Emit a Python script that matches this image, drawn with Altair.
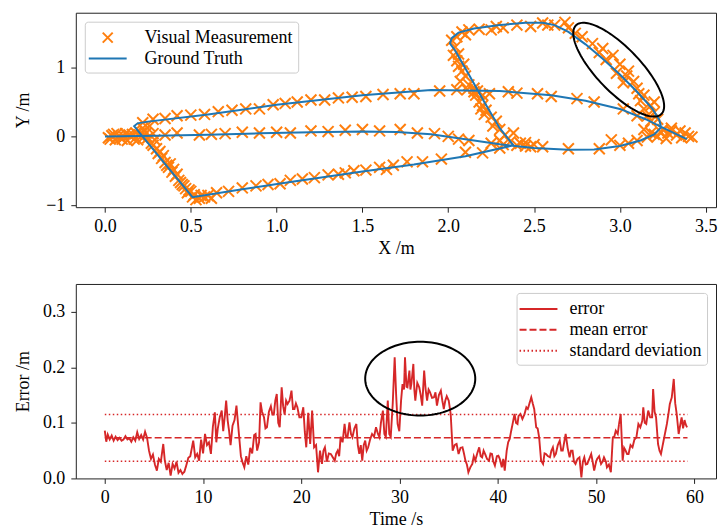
import altair as alt
import numpy as np
import pandas as pd

FONT = "Liberation Serif"
FS = 18
ORANGE = "#ff7f0e"
BLUE = "#1f77b4"
RED = "#d62728"
CROSS = "M-0.5,-0.5L0.5,0.5M-0.5,0.5L0.5,-0.5"
DASH = "M-1.9,0L1.9,0"

# ---------------- ground truth trajectory (in travel order) ----------------
gt_x = [0.00, 0.30, 0.60, 0.90, 1.20, 1.50, 1.70, 1.90, 2.10, 2.30,
        2.50, 2.70, 2.85, 3.00, 3.12, 3.20, 3.24, 3.23, 3.19, 3.10,
        3.00, 2.90, 2.80, 2.70, 2.62, 2.55, 2.45, 2.30, 2.15, 2.06,
        2.02, 2.01, 2.04, 2.12, 2.21, 2.30, 2.38, 2.10, 1.80, 1.50,
        1.10, 0.80, 0.51, 0.34, 0.17, 0.19, 0.25, 0.60, 1.00, 1.50,
        1.90, 2.30, 2.60, 2.80, 3.00, 3.15, 3.24, 3.39]
gt_y = [0.00, 0.01, 0.025, 0.045, 0.06, 0.07, 0.065, 0.03, -0.04, -0.115,
        -0.17, -0.195, -0.19, -0.14, -0.06, 0.03, 0.13, 0.24, 0.40, 0.65,
        0.90, 1.13, 1.34, 1.52, 1.62, 1.655, 1.655, 1.62, 1.57, 1.51,
        1.43, 1.35, 1.25, 0.90, 0.50, 0.12, -0.13, -0.29, -0.41, -0.51,
        -0.655, -0.77, -0.885, -0.37, 0.15, 0.19, 0.215, 0.32, 0.46, 0.60,
        0.675, 0.66, 0.60, 0.52, 0.40, 0.25, 0.14, -0.04]

# ---------------- visual measurements (x, y) by stretch of the path ----------------
meas_start = [(0.02, -0.02), (0.04, 0.01), (0.05, 0.03), (0.06, -0.05), (0.08, 0.01),
              (0.09, -0.02), (0.10, -0.04), (0.12, 0.04), (0.13, -0.06), (0.14, 0.02),
              (0.15, 0.00), (0.17, -0.04), (0.18, 0.05), (0.20, 0.02), (0.22, -0.02),
              (0.11, 0.00), (0.03, -0.04), (0.07, 0.04), (0.16, 0.03), (0.19, -0.05),
              (0.21, 0.05)]
meas_diag_left = [(0.22, 0.12), (0.26, 0.15), (0.24, 0.05), (0.25, -0.02), (0.27, -0.10),
                  (0.29, -0.05), (0.30, -0.18), (0.31, -0.25), (0.33, -0.32), (0.34, -0.28),
                  (0.35, -0.38), (0.37, -0.45), (0.39, -0.52), (0.40, -0.48), (0.41, -0.58),
                  (0.43, -0.64), (0.45, -0.70), (0.46, -0.72), (0.47, -0.76), (0.50, -0.80),
                  (0.52, -0.85), (0.55, -0.90), (0.58, -0.88), (0.53, -0.92), (0.60, -0.86),
                  (0.23, 0.08), (0.28, -0.13), (0.32, -0.22), (0.36, -0.42), (0.38, -0.40),
                  (0.42, -0.55), (0.44, -0.67), (0.48, -0.82), (0.51, -0.88), (0.56, -0.86),
                  (0.62, -0.90), (0.49, -0.78)]
meas_lower = [(0.65, -0.82), (0.72, -0.80), (0.80, -0.75), (0.88, -0.72), (0.95, -0.70),
              (1.02, -0.69), (1.08, -0.64), (1.15, -0.62), (1.22, -0.60), (1.30, -0.56),
              (1.36, -0.55), (1.40, -0.53), (1.45, -0.50), (1.52, -0.49), (1.60, -0.45),
              (1.64, -0.48), (1.68, -0.42), (1.76, -0.37), (1.85, -0.37), (1.96, -0.33),
              (2.10, -0.23), (2.20, -0.24), (2.30, -0.17)]
meas_upper = [(0.22, 0.20), (0.28, 0.25), (0.35, 0.26), (0.42, 0.30), (0.50, 0.31),
              (0.58, 0.32), (0.66, 0.36), (0.74, 0.38), (0.82, 0.40), (0.90, 0.40),
              (0.98, 0.46), (1.05, 0.48), (1.12, 0.50), (1.20, 0.53), (1.28, 0.53),
              (1.36, 0.56), (1.44, 0.57), (1.52, 0.58), (1.62, 0.61), (1.72, 0.62),
              (1.80, 0.62), (1.95, 0.66), (2.05, 0.68), (2.15, 0.65), (2.20, 0.60),
              (2.35, 0.65), (2.40, 0.63), (2.52, 0.62), (2.60, 0.58), (2.75, 0.55),
              (2.85, 0.50), (3.02, 0.40), (3.10, 0.30), (3.18, 0.22)]
meas_middle = [(0.28, 0.04), (0.35, 0.02), (0.42, 0.05), (0.55, 0.02), (0.62, 0.03),
               (0.70, 0.04), (0.80, 0.06), (0.90, 0.05), (1.00, 0.06), (1.08, 0.05),
               (1.20, 0.08), (1.30, 0.07), (1.40, 0.09), (1.50, 0.10), (1.60, 0.08),
               (1.72, 0.10), (1.82, 0.05), (1.92, 0.04), (2.00, 0.00), (2.06, -0.04),
               (2.12, -0.06), (2.25, -0.10)]
meas_curve = [(2.40, -0.13), (2.45, -0.14), (2.50, -0.12), (2.55, -0.15), (2.70, -0.18),
              (2.88, -0.18), (2.95, -0.05), (3.00, -0.13), (3.05, -0.10), (3.10, -0.06),
              (3.16, -0.01), (3.20, 0.03), (3.28, 0.05)]
meas_diag_right = [(2.02, 1.40), (2.04, 1.30), (2.03, 1.18), (2.05, 1.10), (2.06, 1.02),
                   (2.08, 0.95), (2.10, 0.88), (2.07, 0.80), (2.12, 0.75), (2.15, 0.70),
                   (2.16, 0.60), (2.18, 0.50), (2.20, 0.45), (2.22, 0.38), (2.25, 0.28),
                   (2.28, 0.22), (2.21, 0.32), (2.30, 0.10), (2.33, 0.02), (2.30, -0.06),
                   (2.36, -0.08), (2.42, -0.10), (2.06, 1.20), (2.09, 1.05), (2.11, 0.68),
                   (2.17, 0.66), (2.24, 0.62), (2.19, 0.40), (2.26, 0.15), (2.32, -0.12),
                   (2.45, -0.09), (2.48, -0.15), (2.38, 0.05)]
meas_top = [(2.05, 1.45), (2.08, 1.52), (2.12, 1.55), (2.18, 1.56), (2.25, 1.55),
            (2.32, 1.58), (2.40, 1.62), (2.48, 1.60), (2.55, 1.65), (2.62, 1.62),
            (2.68, 1.66), (2.70, 1.58), (2.10, 1.48), (2.28, 1.60), (2.58, 1.62)]
meas_return = [(2.78, 1.45), (2.84, 1.35), (2.90, 1.28), (2.92, 1.12), (2.96, 1.18),
               (3.00, 1.05), (2.98, 0.92), (3.05, 0.95), (3.08, 0.80), (3.02, 0.78),
               (3.10, 0.70), (3.14, 0.60), (3.12, 0.52), (3.18, 0.45), (3.20, 0.35),
               (3.16, 0.30), (3.22, 0.25), (2.74, 1.50), (2.88, 1.22), (3.04, 0.88),
               (3.11, 0.62), (3.20, 0.50), (3.14, 0.40)]
meas_end = [(3.25, 0.10), (3.30, 0.08), (3.33, 0.02), (3.36, -0.02), (3.40, 0.00),
            (3.38, 0.05), (3.27, -0.03), (3.22, 0.00), (3.14, 0.10), (3.30, 0.12),
            (3.35, 0.08), (3.24, 0.06), (3.42, -0.01), (3.18, 0.05)]

# ---------------- error over time ----------------
time_s = [
    0.0, 0.15, 0.3, 0.5, 0.7, 0.9, 1.1, 1.3, 1.5, 1.7,
    1.9, 2.1, 2.3, 2.5, 2.7, 2.9, 3.1, 3.3, 3.5, 3.7,
    3.9, 4.1, 4.3, 4.5, 4.7, 4.9, 5.1, 5.3, 5.5, 5.7,
    5.95, 6.1, 6.3, 6.5, 6.7, 6.9, 7.1, 7.3, 7.5, 7.7,
    7.9, 8.1, 8.3, 8.5, 8.7, 9.0, 9.2, 9.4, 9.6, 9.8,
    10.0, 10.2, 10.4, 10.6, 10.8, 11.0, 11.2, 11.35, 11.5, 11.7,
    11.9, 12.05, 12.2, 12.35, 12.5, 12.65, 12.8, 13.0, 13.2, 13.4,
    13.55, 13.7, 13.85, 14.0, 14.2, 14.4, 14.6, 14.8, 15.0, 15.2,
    15.35, 15.5, 15.7, 15.85, 16.0, 16.2, 16.35, 16.5, 16.7, 16.9,
    17.05, 17.2, 17.35, 17.5, 17.65, 17.8, 18.0, 18.15, 18.3, 18.45,
    18.6, 18.8, 19.0, 19.15, 19.3, 19.45, 19.6, 19.8, 20.0, 20.2,
    20.35, 20.5, 20.7, 20.9, 21.1, 21.3, 21.5, 21.7, 21.9, 22.1,
    22.25, 22.4, 22.6, 22.8, 23.0, 23.2, 23.4, 23.55, 23.7, 23.85,
    24.0, 24.2, 24.4, 24.55, 24.7, 24.9, 25.05, 25.2, 25.4, 25.6,
    25.75, 25.9, 26.05, 26.2, 26.35, 26.5, 26.65, 26.8, 27.0, 27.2,
    27.4, 27.6, 27.8, 27.95, 28.1, 28.3, 28.45, 28.6, 28.8, 28.95,
    29.1, 29.3, 29.5, 29.65, 29.8, 29.97, 30.15, 30.3, 30.45, 30.55,
    30.7, 30.8, 31.0, 31.1, 31.2, 31.4, 31.5, 31.6, 31.8, 32.0,
    32.15, 32.3, 32.5, 32.65, 32.8, 32.95, 33.1, 33.3, 33.5, 33.65,
    33.8, 34.0, 34.2, 34.35, 34.5, 34.65, 34.8, 35.0, 35.2, 35.4,
    35.6, 35.8, 36.0, 36.2, 36.4, 36.55, 36.7, 36.85, 37.0, 37.2,
    37.4, 37.55, 37.7, 37.9, 38.1, 38.25, 38.4, 38.55, 38.7, 38.9,
    39.1, 39.25, 39.4, 39.55, 39.7, 39.9, 40.05, 40.2, 40.4, 40.55,
    40.7, 40.9, 41.05, 41.2, 41.35, 41.5, 41.7, 41.85, 42.0, 42.1,
    42.3, 42.5, 42.7, 42.9, 43.05, 43.2, 43.4, 43.55, 43.7, 43.9,
    44.05, 44.2, 44.4, 44.6, 44.75, 44.9, 45.1, 45.3, 45.45, 45.6,
    45.75, 45.9, 46.1, 46.3, 46.45, 46.6, 46.75, 46.9, 47.1, 47.3,
    47.45, 47.6, 47.75, 47.9, 48.1, 48.3, 48.5, 48.65, 48.8, 48.95,
    49.1, 49.3, 49.5, 49.65, 49.8, 50.0, 50.1, 50.3, 50.5, 50.65,
    50.8, 51.0, 51.1, 51.3, 51.5, 51.7, 51.85, 52.0, 52.2, 52.35,
    52.5, 52.7, 52.85, 53.0, 53.15, 53.3, 53.5, 53.7, 53.9, 54.1,
    54.3, 54.5, 54.7, 54.8, 54.95, 55.1, 55.3, 55.5, 55.7, 55.8,
    55.95, 56.1, 56.3, 56.45, 56.6, 56.8, 57.0, 57.2, 57.35, 57.5,
    57.7, 57.9, 58.05, 58.2, 58.4, 58.55, 58.7, 58.85, 59.0, 59.1,
    59.25]
error_m = [
    .086, .066, .079, .070, .077, .068, .075, .069, .073, .068,
    .070, .076, .070, .072, .066, .074, .068, .083, .071, .078,
    .070, .084, .073, .050, .035, .043, .025, .014, .035, .030,
    .062, .033, .015, .028, .005, .026, .018, .030, .010, .015,
    .008, .012, .024, .037, .040, .068, .038, .044, .032, .070,
    .045, .080, .060, .065, .044, .093, .119, .065, .090, .110,
    .122, .085, .110, .140, .105, .085, .060, .095, .105, .131,
    .100, .070, .040, .030, .020, .040, .025, .055, .045, .078,
    .080, .050, .065, .137, .120, .110, .090, .092, .120, .130,
    .115, .115, .140, .152, .100, .092, .164, .130, .115, .140,
    .134, .140, .158, .125, .125, .135, .128, .110, .110, .128,
    .085, .056, .118, .062, .122, .056, .060, .011, .050, .026,
    .050, .056, .030, .045, .044, .038, .032, .045, .050, .040,
    .075, .065, .098, .075, .074, .101, .080, .074, .090, .098,
    .060, .044, .060, .032, .060, .068, .050, .056, .070, .080,
    .075, .092, .080, .074, .100, .122, .080, .075, .140, .080,
    .075, .134, .218, .150, .098, .085, .140, .170, .160, .218,
    .165, .164, .194, .160, .170, .206, .160, .140, .172, .164,
    .150, .131, .194, .160, .140, .160, .155, .145, .146, .155,
    .131, .150, .158, .140, .125, .140, .148, .140, .116, .050,
    .060, .062, .044, .055, .056, .045, .032, .025, .011, .020,
    .026, .040, .032, .045, .056, .040, .038, .050, .044, .035,
    .032, .045, .044, .030, .023, .040, .041, .035, .020, .035,
    .014, .050, .065, .071, .085, .098, .116, .100, .098, .112,
    .116, .107, .115, .128, .125, .134, .146, .135, .125, .092,
    .090, .074, .032, .026, .045, .044, .040, .038, .050, .056,
    .040, .044, .060, .068, .050, .050, .065, .080, .055, .038,
    .050, .050, .030, .026, .035, .038, .002, .030, .038, .025,
    .026, .035, .044, .030, .014, .030, .035, .040, .026, .030,
    .038, .030, .020, .025, .011, .074, .075, .086, .080, .100,
    .116, .032, .055, .050, .044, .044, .060, .056, .070, .074,
    .098, .092, .104, .128, .100, .098, .122, .110, .110, .161,
    .120, .110, .062, .050, .044, .062, .080, .098, .115, .134,
    .146, .179, .135, .116, .080, .095, .110, .090, .105, .098,
    .092]
mean_error = 0.073
std_error = 0.042
t_start, t_end = 0.0, 59.3

# annotation ellipses: centre, semi-axis vector u, semi-axis vector v
ell_top = (2.993, 0.971, 0.2485, -0.646, 0.0913, 0.2215)
ell_bot = (32.1, 0.1795, 5.6, 0.0, 0.0, 0.0664)

# ---------------- tables ----------------
gt_df = pd.DataFrame({"x": gt_x, "y": gt_y, "i": range(len(gt_x)), "series": "Ground Truth"})
pts = (meas_start + meas_diag_left + meas_lower + meas_upper + meas_middle + meas_curve
       + meas_diag_right + meas_top + meas_return + meas_end)
vm_df = pd.DataFrame({"x": [p[0] for p in pts], "y": [p[1] for p in pts], "series": "Visual Measurement"})


def ellipse_df(p, n=121):
    a = np.linspace(0, 2 * np.pi, n)
    cx, cy, ux, uy, vx, vy = p
    return pd.DataFrame({"x": cx + ux * np.cos(a) + vx * np.sin(a),
                         "y": cy + uy * np.cos(a) + vy * np.sin(a), "i": np.arange(n)})


err_df = pd.DataFrame({"t": time_s, "e": error_m, "kind": "error"})
ref_df = pd.DataFrame({
    "t0": [t_start] * 3, "t1": [t_end] * 3,
    "e": [mean_error, mean_error + std_error, mean_error - std_error],
    "kind": ["mean error", "standard deviation", "standard deviation"],
})

W, H = 642, 195
TX = -52


def x_axis(title, values, fmt):
    return alt.Axis(title=title, values=values, format=fmt, labelFont=FONT, titleFont=FONT,
                    labelFontSize=FS, titleFontSize=FS, labelPadding=5, titlePadding=4)


def y_axis(title, values, fmt):
    return alt.Axis(title=title, values=values, format=fmt, labelFont=FONT, titleFont=FONT,
                    labelFontSize=FS, titleFontSize=FS, labelPadding=6,
                    titleX=TX, titleY=H / 2, titleAngle=270, titleAlign="center",
                    titleBaseline="middle")


# ---------------- top panel ----------------
xs = alt.Scale(domain=[-0.17, 3.56], nice=False, zero=False)
ys = alt.Scale(domain=[-1.03, 1.80], nice=False, zero=False)
series_dom = ["Visual Measurement", "Ground Truth"]
leg_top = alt.Legend(title=None, orient="top-left", offset=9, symbolSize=400,
                     symbolStrokeWidth=2, symbolOffset=7, labelOffset=26)

pts_layer = alt.Chart(vm_df).mark_point(filled=False, strokeWidth=2, size=484, opacity=1,
                                        clip=True).encode(
    x=alt.X("x:Q", scale=xs, axis=x_axis("X /m", [0, 0.5, 1, 1.5, 2, 2.5, 3, 3.5], ".1f")),
    y=alt.Y("y:Q", scale=ys, axis=y_axis("Y /m", [-1, 0, 1], "d")),
    color=alt.Color("series:N", scale=alt.Scale(domain=series_dom, range=[ORANGE, BLUE]), legend=leg_top),
    shape=alt.Shape("series:N", scale=alt.Scale(domain=series_dom, range=[CROSS, DASH]), legend=leg_top),
)
gt_layer = alt.Chart(gt_df).mark_line(strokeWidth=2, clip=True).encode(
    x="x:Q", y="y:Q", order="i:Q",
    color=alt.Color("series:N", scale=alt.Scale(domain=series_dom, range=[ORANGE, BLUE]), legend=leg_top),
)
ell1 = alt.Chart(ellipse_df(ell_top)).mark_line(color="black", strokeWidth=2, clip=True).encode(
    x="x:Q", y="y:Q", order="i:Q")
top = alt.layer(pts_layer, gt_layer, ell1).properties(width=W, height=H)

# ---------------- bottom panel ----------------
ts = alt.Scale(domain=[-2.95, 62.2], nice=False, zero=False)
es = alt.Scale(domain=[0, 0.35], nice=False, zero=False)
kind_dom = ["error", "mean error", "standard deviation"]
dash_scale = alt.Scale(domain=kind_dom, range=[[1, 0], [7, 3], [1.5, 2.5]])
leg_bot = alt.Legend(title=None, orient="top-right", offset=9, symbolType=DASH, symbolSize=400,
                     symbolStrokeWidth=2, symbolStrokeColor=RED, symbolOffset=6, labelOffset=20)

err_layer = alt.Chart(err_df).mark_line(color=RED, strokeWidth=1.9).encode(
    x=alt.X("t:Q", scale=ts, axis=x_axis("Time /s", [0, 10, 20, 30, 40, 50, 60], "d")),
    y=alt.Y("e:Q", scale=es, axis=y_axis("Error /m", [0, 0.1, 0.2, 0.3], ".1f")),
    strokeDash=alt.StrokeDash("kind:N", scale=dash_scale, legend=leg_bot),
)
ref_layer = alt.Chart(ref_df).mark_rule(color=RED, strokeWidth=1.5).encode(
    x="t0:Q", x2="t1:Q", y="e:Q",
    strokeDash=alt.StrokeDash("kind:N", scale=dash_scale, legend=leg_bot),
)
ell2 = alt.Chart(ellipse_df(ell_bot)).mark_line(color="black", strokeWidth=2).encode(
    x="x:Q", y="y:Q", order="i:Q")
bottom = alt.layer(err_layer, ref_layer, ell2).properties(width=W, height=H)

chart = alt.vconcat(top, bottom, spacing=77, bounds="flush").resolve_scale(
    color="independent", shape="independent", strokeDash="independent"
).properties(
    padding={"left": 6, "top": 3, "right": 0, "bottom": 0}
).configure_view(
    stroke="#222", strokeWidth=1
).configure_axis(
    labelFont=FONT, titleFont=FONT, labelFontSize=FS, titleFontSize=FS,
    labelColor="black", titleColor="black", titleFontWeight="normal",
    grid=False, domain=False, tickColor="#222", tickSize=5, tickWidth=1,
).configure_legend(
    labelFont=FONT, labelFontSize=FS, labelColor="black", strokeColor="#cccccc",
    fillColor="white", cornerRadius=3, padding=5, rowPadding=1,
)

chart.save("out.html", embed_options={"renderer": "svg", "actions": False})
